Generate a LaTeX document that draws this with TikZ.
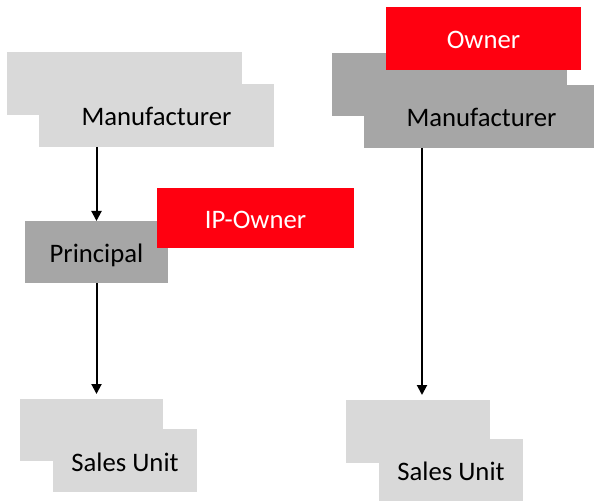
\documentclass[tikz,border=0pt]{standalone}
\usepackage{fontspec}
\setmainfont{Carlito}
\usetikzlibrary{arrows.meta}
\definecolor{paleGray}{HTML}{D9D9D9}
\definecolor{midGray}{HTML}{A6A6A6}
\definecolor{roleRed}{HTML}{FF0010}
\tikzset{
  unitbox/.style={rectangle, inner sep=0pt, outer sep=0pt, draw=none,
    font=\fontsize{26.8}{31}\selectfont, text height=26bp, text depth=5bp},
  lightbox/.style={unitbox, fill=paleGray, text=black},
  darkbox/.style={unitbox, fill=midGray, text=black},
  rolebox/.style={unitbox, fill=roleRed, text=white},
  flow/.style={line width=2bp, -{Triangle[length=10bp,width=10bp]}}
}
\begin{document}
\begin{tikzpicture}[x=1bp,y=-1bp]
\useasboundingbox (0,0) rectangle (594,501);

% left column: manufacturer, principal with IP owner, sales unit
\node[lightbox, minimum width=235bp, minimum height=63bp] (mfgLback) at (124.5,83.5) {};
\node[lightbox, minimum width=235bp, minimum height=63bp] (mfgL) at (156.5,115.5) {Manufacturer};

\node[darkbox, minimum width=143bp, minimum height=62bp] (prin) at (96.5,252) {Principal};
\node[rolebox, minimum width=197bp, minimum height=60bp] (ipown) at (255.5,218) {IP-Owner};

\node[lightbox, minimum width=143bp, minimum height=62bp] (suLback) at (91.5,430) {};
\node[lightbox, minimum width=144bp, minimum height=63bp] (suL) at (125,460.5) {Sales Unit};

% right column: owner on top of manufacturer, sales unit
\node[darkbox, minimum width=235bp, minimum height=63bp] (mfgRback) at (449.5,84.5) {};
\node[rolebox, minimum width=195bp, minimum height=63bp] (own) at (483.5,38.5) {Owner};
\node[darkbox, minimum width=235bp, minimum height=63bp] (mfgR) at (481.5,116.5) {Manufacturer};

\node[lightbox, minimum width=144bp, minimum height=63bp] (suRback) at (418,431.5) {};
\node[lightbox, minimum width=144bp, minimum height=63bp] (suR) at (451,470) {Sales Unit};

% connectors
\draw[flow] (prin.north |- mfgL.south) -- (prin.north);
\draw[flow, shorten >=5bp] (prin.south) -- (prin.south |- suLback.north);
\draw[flow, shorten >=5bp] ([xshift=4bp]suRback.north |- mfgR.south) -- ([xshift=4bp]suRback.north);
\end{tikzpicture}
\end{document}
